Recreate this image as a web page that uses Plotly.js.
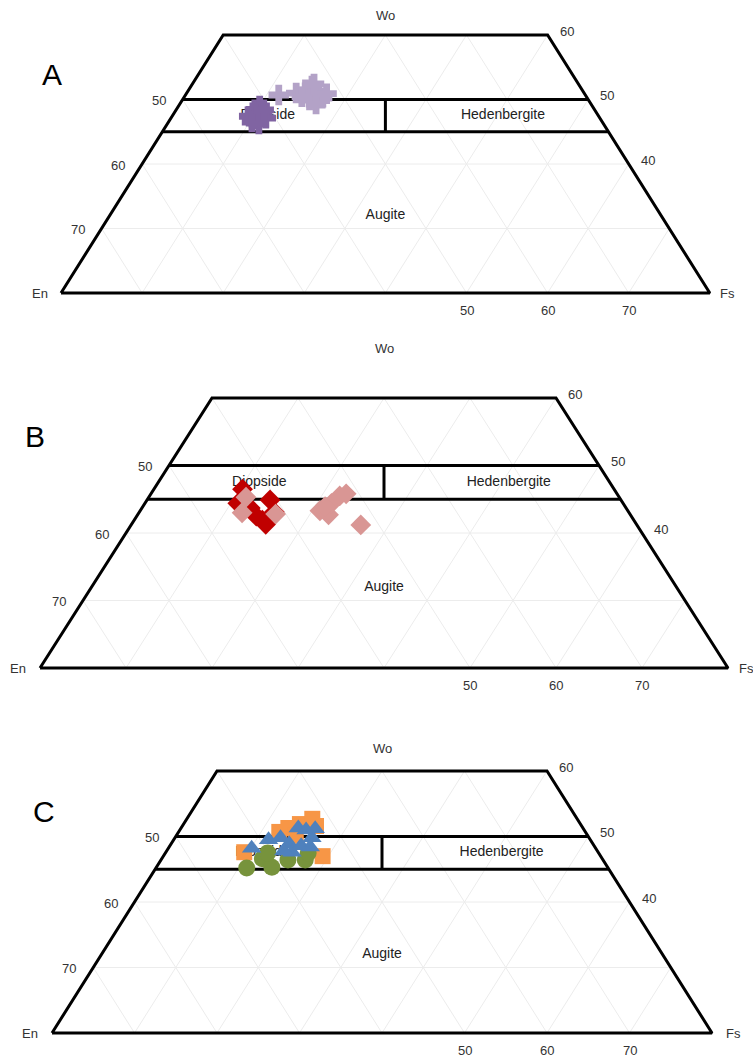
<!DOCTYPE html>
<html><head><meta charset="utf-8">
<script src="https://cdn.plot.ly/plotly-3.0.1.min.js"></script>
<style>html,body{margin:0;padding:0;background:#fff}</style>
</head><body><div id="chart" style="width:753px;height:1062px"></div>
<script>
// ---------- DATA (Wo, En, Fs in mol %) ----------
const panelNames = ["A", "B", "C"];
const cornerLabels = ["Wo", "En", "Fs"];
const fieldNames = ["Diopside", "Hedenbergite", "Augite"];
const enTicks = [50, 60, 70];   // left edge
const woTicks = [60, 50, 40];   // right edge
const fsTicks = [50, 60, 70];   // bottom edge

// Panel A
const aDarkWo = [47.4, 48.4, 49.0, 47.8, 47.0, 46.5, 47.1, 46.2, 48.4];
const aDarkEn = [43.1, 41.9, 41.0, 41.3, 42.3, 43.2, 41.2, 42.5, 40.8];
const aDarkFs = [9.5, 9.7, 10.0, 10.9, 10.7, 10.3, 11.7, 11.3, 10.8];
const aLightWo = [50.7, 51.0, 51.5, 52.1, 51.2, 50.2, 49.9, 49.3, 50.9, 50.4, 52.4];
const aLightEn = [37.8, 35.5, 34.1, 33.0, 32.7, 32.7, 34.4, 33.9, 31.8, 35.1, 32.6];
const aLightFs = [11.5, 13.5, 14.4, 14.9, 16.1, 17.1, 15.7, 16.8, 17.3, 14.5, 15.0];

// Panel B
const bDarkWo = [46.5, 44.4, 43.7, 41.9, 44.9, 43.1, 42.5, 41.3];
const bDarkEn = [43.2, 44.8, 43.7, 43.2, 40.8, 41.2, 43.6, 43.1];
const bDarkFs = [10.3, 10.8, 12.6, 14.9, 14.3, 15.7, 13.9, 15.6];
const bLightWo = [45.3, 43.0, 42.8, 43.3, 42.7, 44.4, 45.5, 45.8, 43.9, 41.2];
const bLightEn = [43.4, 45.0, 41.2, 35.8, 35.1, 33.9, 32.4, 31.5, 34.9, 32.1];
const bLightFs = [11.3, 12.0, 16.0, 20.9, 22.2, 21.7, 22.1, 22.7, 21.2, 26.7];

// Panel C
const cOrangeWo = [47.6, 50.7, 51.3, 51.9, 52.7, 51.6, 47.0, 50.1];
const cOrangeEn = [42.9, 37.1, 35.7, 34.0, 32.1, 32.2, 33.7, 35.4];
const cOrangeFs = [9.5, 12.2, 13.0, 14.1, 15.2, 16.2, 19.3, 14.5];
const cGreenWo = [45.2, 46.6, 45.3, 47.5, 46.4, 46.4, 47.5];
const cGreenEn = [43.8, 41.2, 40.7, 40.1, 38.2, 36.1, 35.2];
const cGreenFs = [11.0, 12.2, 14.0, 12.4, 15.4, 17.5, 17.3];
const cBlueWo = [48.2, 49.5, 49.8, 48.9, 51.3, 51.0, 51.2, 49.8, 47.6, 47.8, 48.6, 48.4];
const cBlueEn = [41.7, 39.0, 37.4, 36.8, 34.5, 33.7, 32.5, 33.6, 37.1, 38.0, 35.5, 34.5];
const cBlueFs = [10.1, 11.5, 12.8, 14.3, 14.2, 15.3, 16.3, 16.6, 15.3, 14.2, 15.9, 17.1];

// ---------- LAYOUT / STYLE ----------
const W = 753, H = 1062;
const FONT = "Liberation Sans, Arial, sans-serif";
const panels = [
  {xEn: 61, sx: 8.11, yEn: 293, sy: 6.45, top: 0,   bot: 340, woShift: 20, enShift: -21, fsShift: 18, letter: [52, 75],
   series: [
     {wo: aDarkWo, en: aDarkEn, fs: aDarkFs, color: "#8064a2", symbol: "cross", size: 17},
     {wo: aLightWo, en: aLightEn, fs: aLightFs, color: "#b3a2c7", symbol: "cross", size: 17}]},
  {xEn: 40, sx: 8.6, yEn: 668, sy: 6.75, top: 340, bot: 700, woShift: 50, enShift: -22, fsShift: 18, letter: [35, 437],
   series: [
     {wo: bDarkWo, en: bDarkEn, fs: bDarkFs, color: "#c00000", symbol: "diamond", size: 16},
     {wo: bLightWo, en: bLightEn, fs: bLightFs, color: "#d99694", symbol: "diamond", size: 16}]},
  {xEn: 52, sx: 8.25, yEn: 1033, sy: 6.55, top: 700, bot: 1062, woShift: 23, enShift: -22, fsShift: 21, letter: [44, 811],
   series: [
     {wo: cOrangeWo, en: cOrangeEn, fs: cOrangeFs, color: "#f79646", symbol: "square", size: 16},
     {wo: cGreenWo, en: cGreenEn, fs: cGreenFs, color: "#77933c", symbol: "circle", size: 17},
     {wo: cBlueWo, en: cBlueEn, fs: cBlueFs, color: "#4f81bd", symbol: "triangle-up", size: 17}]}
];

function tx(wo, fs) { return fs + wo / 2; }

const traces = [];
const annotations = [];
const layout = {
  width: W, height: H, margin: {l: 0, r: 0, t: 0, b: 0},
  paper_bgcolor: "#fff", plot_bgcolor: "rgba(0,0,0,0)",
  showlegend: false, font: {family: FONT, size: 13, color: "#333"},
  annotations: annotations
};

panels.forEach((p, i) => {
  const sfx = i === 0 ? "" : String(i + 1);
  const xa = "x" + sfx, ya = "y" + sfx;
  layout["xaxis" + sfx] = {domain: [0, 1], range: [10 - p.xEn / p.sx, 10 + (W - p.xEn) / p.sx],
    visible: false, fixedrange: true, anchor: ya};
  layout["yaxis" + sfx] = {domain: [1 - p.bot / H, 1 - p.top / H],
    range: [20 - (p.bot - p.yEn) / p.sy, 20 + (p.yEn - p.top) / p.sy],
    visible: false, fixedrange: true, anchor: xa};

  const line = (wos, fss, color, width) => traces.push({
    type: "scatter", mode: "lines", xaxis: xa, yaxis: ya, hoverinfo: "skip",
    x: wos.map((w, k) => tx(w, fss[k])), y: wos,
    line: {color: color, width: width}
  });

  [30, 40].forEach(w => line([w, w], [0, 100 - w], "#ececec", 1));
  for (let v = 10; v <= 70; v += 10) {
    const wTop = Math.min(60, 100 - v);
    line([20, wTop], [v, v], "#ececec", 1);
    line([20, wTop], [100 - v - 20, 100 - v - wTop], "#ececec", 1);
  }

  line([20, 60, 60, 20, 20], [0, 0, 40, 80, 0], "#000", 3);
  line([50, 50], [0, 50], "#000", 3);
  line([45, 45], [0, 55], "#000", 3);
  line([45, 50], [27.5, 25], "#000", 3);

  traces.push({type: "scatter", mode: "text", xaxis: xa, yaxis: ya, hoverinfo: "skip",
    x: [35.5, 64.5, 50], y: [47.5, 47.5, 32], text: fieldNames,
    textfont: {family: FONT, size: 14, color: "#222"}});

  p.series.forEach(s => traces.push({
    type: "scatter", mode: "markers", xaxis: xa, yaxis: ya,
    x: s.wo.map((w, k) => tx(w, s.fs[k])), y: s.wo,
    customdata: s.en,
    hovertemplate: "Wo %{y}<br>En %{customdata}<extra></extra>",
    marker: {symbol: s.symbol, size: s.size, color: s.color, line: {width: 0}}
  }));

  const ann = (x, y, text, o) => annotations.push(Object.assign({
    xref: xa, yref: ya, x: x, y: y, text: text, showarrow: false,
    xanchor: "center", yanchor: "middle",
    font: {family: FONT, size: 13, color: "#333"}}, o || {}));

  ann(50, 60, cornerLabels[0], {yshift: p.woShift});
  ann(10, 20, cornerLabels[1], {xshift: p.enShift});
  ann(90, 20, cornerLabels[2], {xshift: p.fsShift});
  enTicks.forEach(e => { const w = 100 - e; ann(tx(w, 0), w, String(e), {xshift: -24, yshift: -1}); });
  woTicks.forEach(w => ann(tx(w, 100 - w), w, String(w), {xshift: 19, yshift: 4}));
  fsTicks.forEach(f => ann(tx(20, f), 20, String(f), {yshift: -17}));

  annotations.push({xref: "paper", yref: "paper", x: p.letter[0] / W, y: 1 - p.letter[1] / H,
    xanchor: "center", yanchor: "middle",
    text: panelNames[i], showarrow: false, font: {family: FONT, size: 30, color: "#000"}});
});

Plotly.newPlot("chart", traces, layout, {displayModeBar: false, staticPlot: true});
</script>
</body></html>
